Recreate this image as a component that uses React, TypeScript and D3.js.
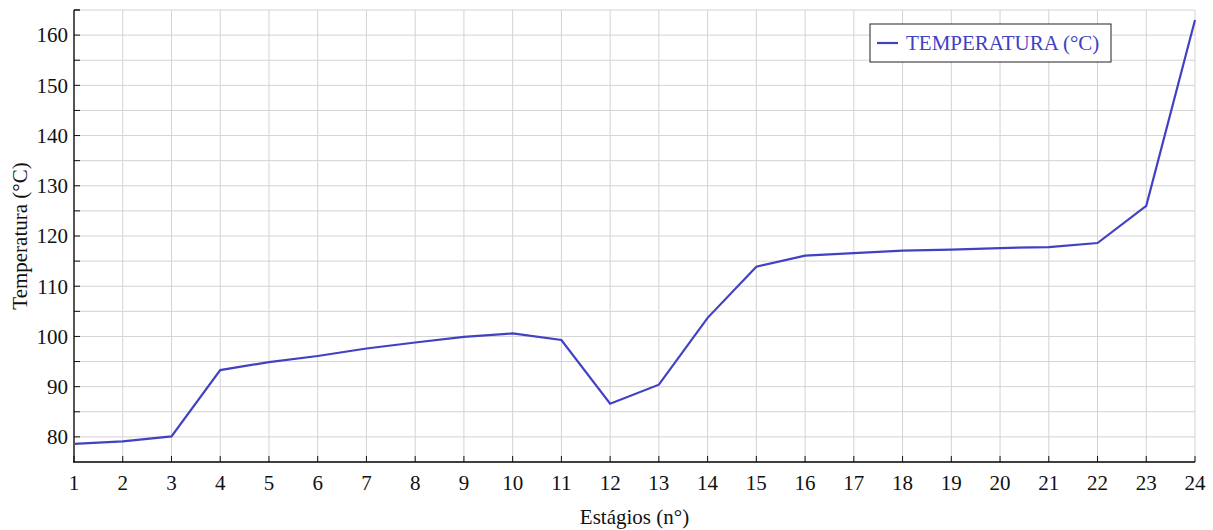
import { useEffect, useRef } from 'react';
import * as d3 from 'd3';

const stages = [1, 2, 3, 4, 5, 6, 7, 8, 9, 10, 11, 12, 13, 14, 15, 16, 17, 18, 19, 20, 21, 22, 23, 24];
const temperatures = [78.6, 79.1, 80.1, 93.3, 94.9, 96.1, 97.6, 98.8, 99.9, 100.6, 99.3, 86.6, 90.4, 103.7, 113.9, 116.1, 116.6, 117.1, 117.3, 117.6, 117.8, 118.6, 126.0, 163.0];
const yTicks = [80, 90, 100, 110, 120, 130, 140, 150, 160];
const seriesName = 'TEMPERATURA (°C)';

export default function App() {
  const svgRef = useRef<SVGSVGElement>(null);

  useEffect(() => {
    if (!svgRef.current) return;
    const width = 1213;
    const height = 530;
    const margin = { top: 10, right: 18, bottom: 68, left: 74 };
    const font = 'Liberation Serif, Times New Roman, serif';
    const fontSize = 21;
    const lineColor = '#4141c4';

    const svg = d3.select(svgRef.current);
    svg.selectAll('*').remove();
    svg.attr('width', width).attr('height', height).attr('font-family', font);

    const x = d3.scaleLinear().domain([1, 24]).range([margin.left, width - margin.right]);
    const y = d3.scaleLinear().domain([75, 165]).range([height - margin.bottom, margin.top]);

    const grid = svg.append('g');
    // vertical grid
    grid.selectAll('line.v')
      .data(stages)
      .join('line')
      .attr('x1', d => x(d)).attr('x2', d => x(d))
      .attr('y1', y(165)).attr('y2', y(75))
      .attr('stroke', '#d3d3d3').attr('stroke-width', 1);
    // horizontal grid every 5
    grid.selectAll('line.h')
      .data(d3.range(80, 166, 5))
      .join('line')
      .attr('x1', x(1)).attr('x2', x(24))
      .attr('y1', d => y(d)).attr('y2', d => y(d))
      .attr('stroke', '#d3d3d3').attr('stroke-width', 1);

    // line
    const line = d3.line<number>()
      .x((_, i) => x(stages[i]))
      .y(d => y(d));
    svg.append('path')
      .datum(temperatures)
      .attr('d', line)
      .attr('fill', 'none')
      .attr('stroke', lineColor)
      .attr('stroke-width', 2.2);

    // y axis
    const yAxis = svg.append('g');
    yAxis.append('line')
      .attr('x1', x(1)).attr('x2', x(1))
      .attr('y1', y(165)).attr('y2', y(75))
      .attr('stroke', '#555').attr('stroke-width', 2);
    yAxis.selectAll('line.t')
      .data(d3.range(80, 166, 5))
      .join('line')
      .attr('x1', x(1)).attr('x2', x(1) + 6)
      .attr('y1', d => y(d)).attr('y2', d => y(d))
      .attr('stroke', '#111').attr('stroke-width', 1);
    yAxis.append('line')
      .attr('x1', x(1)).attr('x2', x(1) + 6)
      .attr('y1', y(165)).attr('y2', y(165))
      .attr('stroke', '#111');
    yAxis.selectAll('text')
      .data(yTicks)
      .join('text')
      .attr('x', x(1) - 6)
      .attr('y', d => y(d))
      .attr('dy', '0.35em')
      .attr('text-anchor', 'end')
      .attr('font-family', font)
      .attr('font-size', fontSize)
      .attr('fill', '#111')
      .text(d => d);

    // x axis
    const xAxis = svg.append('g');
    xAxis.append('line')
      .attr('x1', x(1) - 1).attr('x2', x(24))
      .attr('y1', y(75)).attr('y2', y(75))
      .attr('stroke', '#000').attr('stroke-width', 1.5);
    xAxis.selectAll('line.t')
      .data(stages)
      .join('line')
      .attr('x1', d => x(d)).attr('x2', d => x(d))
      .attr('y1', y(75)).attr('y2', y(75) - 6)
      .attr('stroke', '#111');
    xAxis.selectAll('text')
      .data(stages)
      .join('text')
      .attr('x', d => x(d))
      .attr('y', 490)
      .attr('text-anchor', 'middle')
      .attr('font-family', font)
      .attr('font-size', fontSize)
      .attr('fill', '#111')
      .text(d => d);

    // axis titles
    svg.append('text')
      .attr('x', (x(1) + x(24)) / 2)
      .attr('y', 524)
      .attr('text-anchor', 'middle')
      .attr('font-family', font)
      .attr('font-size', fontSize)
      .attr('fill', '#111')
      .text('Estágios (n°)');
    svg.append('text')
      .attr('transform', `translate(27,${(y(75) + y(165)) / 2}) rotate(-90)`)
      .attr('text-anchor', 'middle')
      .attr('font-family', font)
      .attr('font-size', fontSize)
      .attr('fill', '#111')
      .text('Temperatura (°C)');

    // legend
    const legend = svg.append('g').attr('transform', 'translate(870,24)');
    legend.append('rect')
      .attr('width', 241).attr('height', 38)
      .attr('fill', '#fff').attr('stroke', '#222').attr('stroke-width', 1);
    legend.append('line')
      .attr('x1', 7).attr('x2', 28).attr('y1', 19).attr('y2', 19)
      .attr('stroke', lineColor).attr('stroke-width', 2.2);
    legend.append('text')
      .attr('x', 36).attr('y', 19).attr('dy', '0.35em')
      .attr('font-family', font)
      .attr('font-size', fontSize)
      .attr('fill', lineColor)
      .text(seriesName);
  }, []);

  return (
    <div>
      <svg ref={svgRef} style={{ position: 'absolute', left: 0, top: 0 }} />
    </div>
  );
}
